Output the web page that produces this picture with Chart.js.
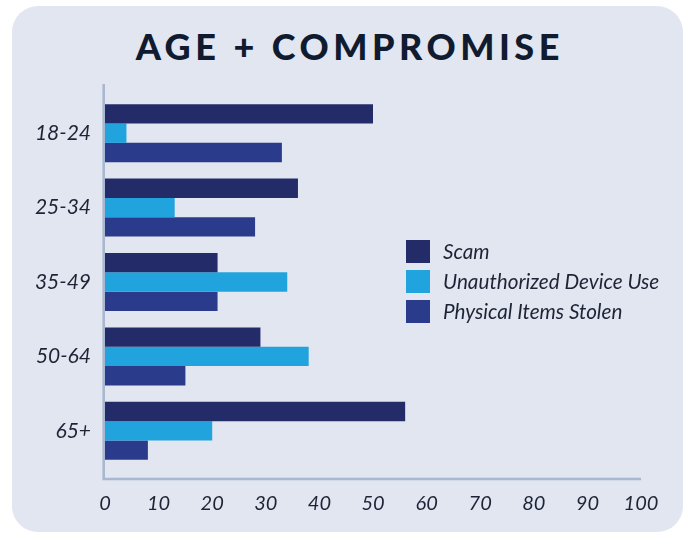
<!DOCTYPE html>
<html>
<head>
<meta charset="utf-8">
<script src="https://cdn.jsdelivr.net/npm/chart.js@4"></script>
<style>
  html, body { margin: 0; padding: 0; background: #fff; }
  #wrap { position: relative; width: 688px; height: 533px; overflow: hidden; }
  #card { position: absolute; left: 12px; top: 6px; width: 671px; height: 526px;
          background: #e1e6f0; border-radius: 26px; }
  #title { position: absolute; left: 12px; top: 22px; width: 671px; text-align: center;
           font-family: Lato, sans-serif; font-weight: 900; font-size: 36px; line-height: 48px;
           letter-spacing: 4.5px; padding-left: 4.5px; box-sizing: border-box; color: #101b30; }
  canvas { position: absolute; left: 0; top: 0; }
</style>
</head>
<body>
<div id="wrap">
  <div id="card"></div>
  <div id="title">AGE + COMPROMISE</div>
  <canvas id="myChart" width="688" height="533"></canvas>
</div>
<script>
// tranches d'âge
const ageGroups = ['18-24', '25-34', '35-49', '50-64', '65+'];

// pourcentages
const scam = [50, 36, 21, 29, 56];
const unauthorizedUse = [4, 13, 34, 38, 20];
const itemsStolen = [33, 28, 21, 15, 8];

const seriesNames = ['Scam', 'Unauthorized Device Use', 'Physical Items Stolen'];
const seriesColors = ['#232c69', '#21a3dd', '#2b3b8b'];

const textColor = '#1e2436';
const axisColor = '#a9b8d0';

// lignes d'axes qui dépassent un peu de la zone du graphique
const axisLines = {
    id: 'axisLines',
    beforeDatasetsDraw(chart) {
        const { ctx, chartArea } = chart;
        ctx.save();
        ctx.strokeStyle = axisColor;
        ctx.lineWidth = 2.6;
        ctx.beginPath();
        ctx.moveTo(chartArea.left - 1.3, chartArea.top - 12);
        ctx.lineTo(chartArea.left - 1.3, chartArea.bottom + 11);
        ctx.lineTo(chartArea.right, chartArea.bottom + 11);
        ctx.stroke();
        ctx.restore();
    }
};

// légende dessinée à l'intérieur de la zone du graphique
const innerLegend = {
    id: 'innerLegend',
    afterDraw(chart) {
        const { ctx, chartArea } = chart;
        const x = chartArea.left + 301;
        let y = chartArea.top + 144;
        ctx.save();
        ctx.font = 'italic 20.7px Lato';
        ctx.textBaseline = 'middle';
        chart.data.datasets.forEach(ds => {
            ctx.fillStyle = ds.backgroundColor;
            ctx.fillRect(x, y, 24, 23);
            ctx.fillStyle = textColor;
            ctx.fillText(ds.label, x + 37, y + 12);
            y += 30;
        });
        ctx.restore();
    }
};

const ctx = document.getElementById('myChart').getContext('2d');

new Chart(ctx, {
    type: 'bar',
    data: {
        labels: ageGroups,
        datasets: [scam, unauthorizedUse, itemsStolen].map((values, i) => ({
            label: seriesNames[i],
            data: values,
            backgroundColor: seriesColors[i],
            categoryPercentage: 0.78,
            barPercentage: 1.0
        }))
    },
    options: {
        indexAxis: 'y',
        responsive: false,
        animation: false,
        layout: { padding: { top: 96, right: 47, left: 0, bottom: 0 } },
        plugins: {
            legend: { display: false },
            tooltip: { enabled: false }
        },
        scales: {
            x: {
                min: 0,
                max: 100,
                ticks: { stepSize: 10, font: { family: 'Lato', size: 20, style: 'italic' }, color: textColor, padding: 24, maxRotation: 0 },
                grid: { display: false, drawTicks: false },
                border: { display: false },
                afterFit(scale) { scale.height = 65; }
            },
            y: {
                ticks: { font: { family: 'Lato', size: 21, style: 'italic' }, color: textColor, padding: 14 },
                grid: { display: false, drawTicks: false },
                border: { display: false },
                afterFit(scale) { scale.width = 105; }
            }
        }
    },
    plugins: [axisLines, innerLegend]
});
</script>
</body>
</html>
